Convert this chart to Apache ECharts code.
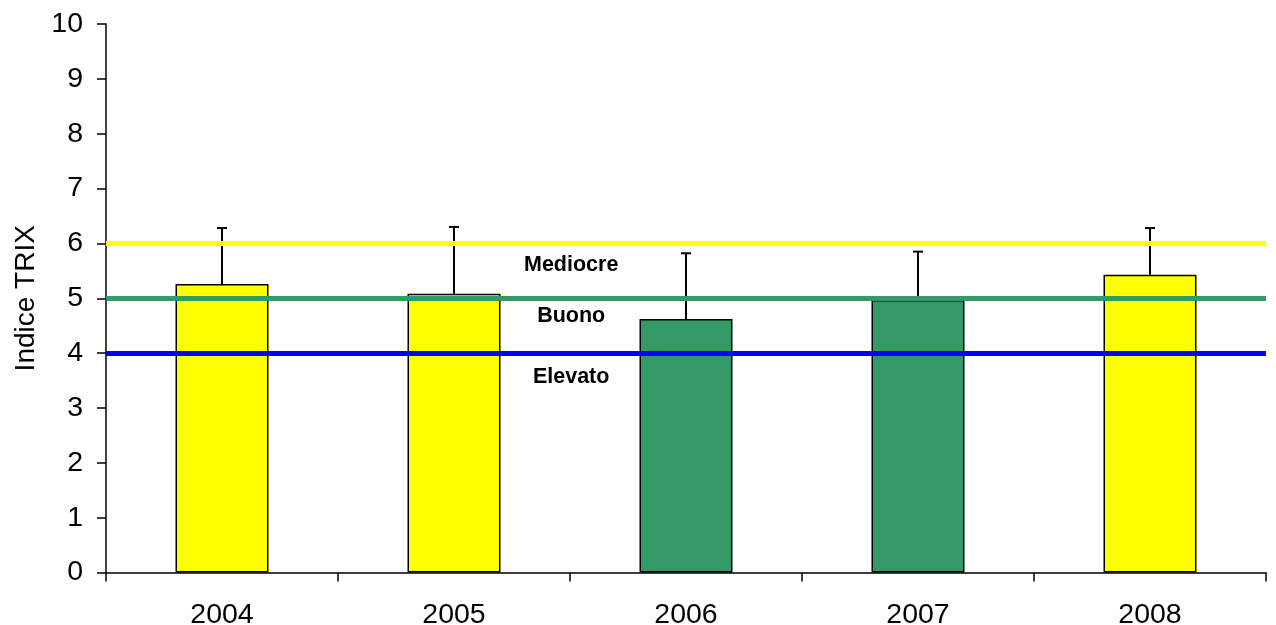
<!DOCTYPE html>
<html>
<head>
<meta charset="utf-8">
<style>
  html, body { margin: 0; padding: 0; background: #ffffff; }
  #chart { width: 1276px; height: 625px; }
</style>
<script src="https://cdn.jsdelivr.net/npm/echarts@6/dist/echarts.min.js"></script>
</head>
<body>
<div id="chart"></div>
<script>
// TRIX index per year: mean value and upper whisker
const years = ['2004', '2005', '2006', '2007', '2008'];
const trixMean = [5.26, 5.08, 4.62, 4.97, 5.43];
const trixUpper = [6.28, 6.30, 5.82, 5.85, 6.28];

// Trophic state thresholds and the class names written between them
const thresholdValues = [6, 5, 4];
const classNames = ['Mediocre', 'Buono', 'Elevato'];
const classLabelY = [5.61, 4.67, 3.57];

const yTicks = [0, 1, 2, 3, 4, 5, 6, 7, 8, 9, 10];

const FONT = '"Liberation Sans", Arial, sans-serif';
const YELLOW = '#FFFF00';
const GREEN = '#339966';
const BLUE = '#0000FF';
const thresholdColors = [YELLOW, GREEN, BLUE];

// bar colour follows the class the mean value falls in
function classColor(v) {
  return v >= 5 ? YELLOW : GREEN;
}

const chart = echarts.init(document.getElementById('chart'), null, { renderer: 'canvas' });

const classLabelStyle = {
  show: true,
  position: 'inside',
  formatter: p => p.name,
  color: '#000000',
  textBorderWidth: 0,
  fontFamily: FONT,
  fontWeight: 'bold',
  fontSize: 21.5
};

const option = {
  animation: false,
  backgroundColor: '#ffffff',
  grid: {
    left: 106, right: 10, top: 24, bottom: 52.5,
    containLabel: false,
    outerBoundsMode: 'none'
  },
  xAxis: [
    {
      type: 'category',
      data: years,
      boundaryGap: true,
      axisLine: { lineStyle: { color: '#000', width: 1.5 } },
      axisTick: { show: true, alignWithLabel: false, length: 9, lineStyle: { color: '#000', width: 1.5 } },
      axisLabel: { color: '#000', fontFamily: FONT, fontSize: 28.5, margin: 28 },
      splitLine: { show: false }
    },
    {
      // hidden linear axis used to place the class names between categories
      type: 'value',
      min: 0,
      max: years.length,
      show: false
    }
  ],
  yAxis: {
    type: 'value',
    min: 0,
    max: 10,
    interval: 1,
    name: 'Indice TRIX',
    nameLocation: 'middle',
    nameGap: 62,
    nameRotate: 90,
    nameTextStyle: { color: '#000', fontFamily: FONT, fontSize: 28 },
    axisLine: { show: true, lineStyle: { color: '#000', width: 1.5 } },
    axisTick: { show: true, inside: false, length: 9, lineStyle: { color: '#000', width: 1.5 } },
    axisLabel: {
      color: '#000', fontFamily: FONT, fontSize: 28.5, margin: 23,
      formatter: v => String(yTicks[yTicks.indexOf(v)])
    },
    splitLine: { show: false }
  },
  series: [
    {
      type: 'bar',
      z: 2,
      barWidth: 93,
      data: trixMean.map(v => ({
        value: v,
        itemStyle: { color: classColor(v), borderColor: '#000', borderWidth: 1.5 }
      }))
    },
    {
      // threshold lines and class names
      type: 'scatter',
      xAxisIndex: 1,
      z: 3,
      symbolSize: 0,
      silent: true,
      itemStyle: { opacity: 1 },
      data: classNames.map((n, i) => ({
        name: n,
        value: [2.005, classLabelY[i]],
        label: classLabelStyle
      })),
      label: classLabelStyle,
      markLine: {
        silent: true,
        symbol: ['none', 'none'],
        label: { show: false },
        data: thresholdValues.map((v, i) => ({
          yAxis: v,
          lineStyle: { color: thresholdColors[i], width: 5, type: 'solid', opacity: 1 }
        }))
      }
    },
    {
      // upper whiskers with caps
      type: 'custom',
      z: 4,
      silent: true,
      data: trixMean.map((v, i) => [i, v, trixUpper[i]]),
      renderItem: function (params, api) {
        const base = api.coord([api.value(0), api.value(1)]);
        const top = api.coord([api.value(0), api.value(2)]);
        const half = 5;
        const style = { stroke: '#000', lineWidth: 2 };
        return {
          type: 'group',
          children: [
            { type: 'line', shape: { x1: base[0], y1: base[1], x2: top[0], y2: top[1] }, style },
            { type: 'line', shape: { x1: top[0] - half, y1: top[1], x2: top[0] + half, y2: top[1] }, style }
          ]
        };
      }
    }
  ]
};

chart.setOption(option);
</script>
</body>
</html>
